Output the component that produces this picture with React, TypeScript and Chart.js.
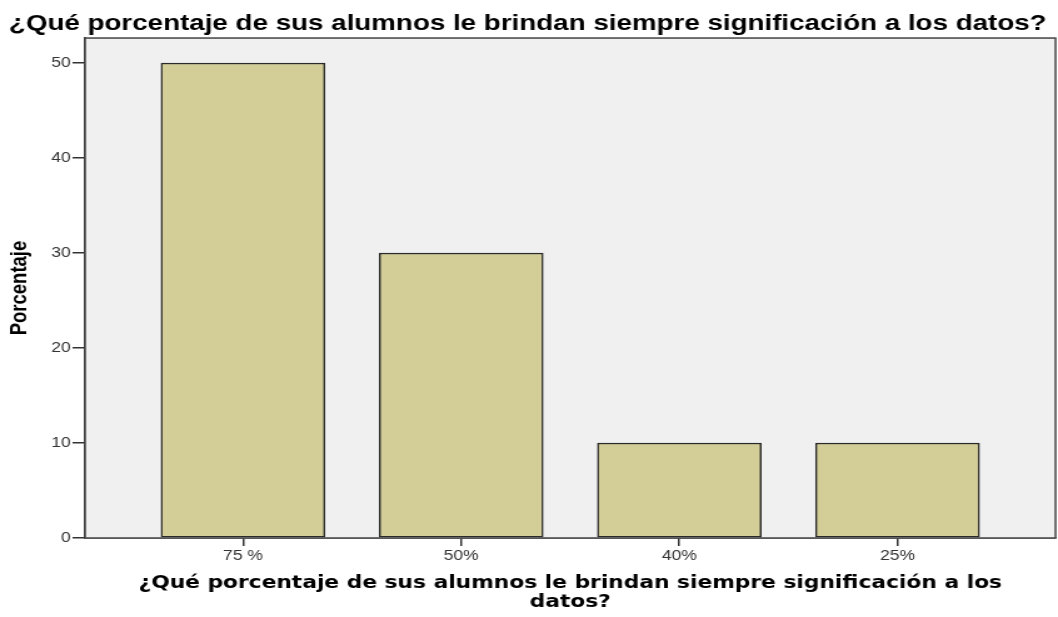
import React, { useEffect, useRef } from "react";
import { Chart, registerables } from "chart.js";

Chart.register(...registerables);

const chartTitle = "¿Qué porcentaje de sus alumnos le brindan siempre significación a los datos?";
const categories = ["75 %", "50%", "40%", "25%"];
const values = [50, 30, 10, 10];
const yTicks = [0, 10, 20, 30, 40, 50];
const xTitle = ["¿Qué porcentaje de sus alumnos le brindan siempre significación a los", "datos?"];
const yTitle = "Porcentaje";

// The reference is rendered narrower and stretched horizontally; emulate that.
const CSS_W = 1058;
const CSS_H = 617;
const CANVAS_W = 846;

const framePlugin = {
  id: "frame",
  beforeDatasetsDraw(chart: any) {
    const { ctx, chartArea } = chart;
    ctx.save();
    ctx.fillStyle = "#f0f0f0";
    ctx.fillRect(chartArea.left, chartArea.top, chartArea.right - chartArea.left, chartArea.bottom - chartArea.top);
    ctx.restore();
  },
  afterDatasetsDraw(chart: any) {
    const { ctx, chartArea } = chart;
    ctx.save();
    ctx.strokeStyle = "#444";
    ctx.lineWidth = 1.5;
    ctx.strokeRect(chartArea.left, chartArea.top, chartArea.right - chartArea.left, chartArea.bottom - chartArea.top);
    ctx.restore();
  },
};

export default function App() {
  const ref = useRef<HTMLCanvasElement>(null);
  useEffect(() => {
    if (!ref.current) return;
    const chart = new Chart(ref.current, {
      type: "bar",
      data: {
        datasets: [
          {
            data: values.map((v, i) => ({ x: i + 1, y: v })),
            backgroundColor: "#d3ce97",
            borderColor: "#2a2a2a",
            borderWidth: 1.5,
            borderSkipped: false,
            barThickness: 131,
          },
        ],
      },
      options: {
        animation: false,
        responsive: false,
        devicePixelRatio: 1,
        layout: { padding: { top: 0, right: 2, left: 0, bottom: 0 } },
        plugins: {
          legend: { display: false },
          tooltip: { enabled: false },
          title: {
            display: true,
            text: chartTitle,
            color: "#000",
            font: { family: "'Liberation Sans', Arial, sans-serif", size: 22.2, weight: "bold", lineHeight: 1.2 },
            padding: { top: 11, bottom: 0.4 },
          },
        },
        scales: {
          x: {
            type: "linear",
            offset: false,
            min: 0.276,
            max: 4.724,
            afterBuildTicks: (scale: any) => {
              scale.ticks = categories.map((_, i) => ({ value: i + 1 }));
            },
            afterFit: (scale: any) => {
              scale.height = 79;
            },
            ticks: {
              callback: (v: any) => categories[Math.round(v) - 1] ?? "",
              color: "#333",
              font: { family: "'Liberation Sans', Arial, sans-serif", size: 14 },
              padding: 2,
              maxRotation: 0,
              autoSkip: false,
            },
            grid: { display: true, offset: false, drawOnChartArea: false, drawTicks: true, tickLength: 8, color: "#333", lineWidth: 1.5 },
            border: { display: true, color: "#333", width: 1.5 },
            title: {
              display: true,
              text: xTitle,
              color: "#000",
              font: { family: "'DejaVu Sans', Verdana, sans-serif", size: 17.4, weight: "bold", lineHeight: 1.1 },
              padding: { top: 0, bottom: 4.5 },
            },
          },
          y: {
            min: 0,
            max: 52.63,
            afterBuildTicks: (scale: any) => {
              scale.ticks = yTicks.map((v) => ({ value: v }));
            },
            afterFit: (scale: any) => {
              scale.width = 68;
            },
            ticks: {
              color: "#333",
              font: { family: "'Liberation Sans', Arial, sans-serif", size: 14 },
              padding: 1.5,
            },
            grid: { display: true, drawOnChartArea: false, drawTicks: true, tickLength: 10, color: "#333", lineWidth: 1.5 },
            border: { display: true, color: "#333", width: 1.5 },
            title: {
              display: true,
              text: yTitle,
              color: "#000",
              font: { family: "'Liberation Sans', Arial, sans-serif", size: 18.5, weight: "bold", lineHeight: 1.2 },
              padding: { top: 5, bottom: 0 },
            },
          },
        },
      },
      plugins: [framePlugin],
    } as any);
    return () => chart.destroy();
  }, []);
  return (
    <div style={{ position: "fixed", left: 0, top: 0, width: CSS_W, height: CSS_H, background: "#fff" }}>
      <canvas
        ref={ref}
        width={CANVAS_W}
        height={CSS_H}
        style={{ display: "block", width: CSS_W + "px", height: CSS_H + "px" }}
      />
    </div>
  );
}
